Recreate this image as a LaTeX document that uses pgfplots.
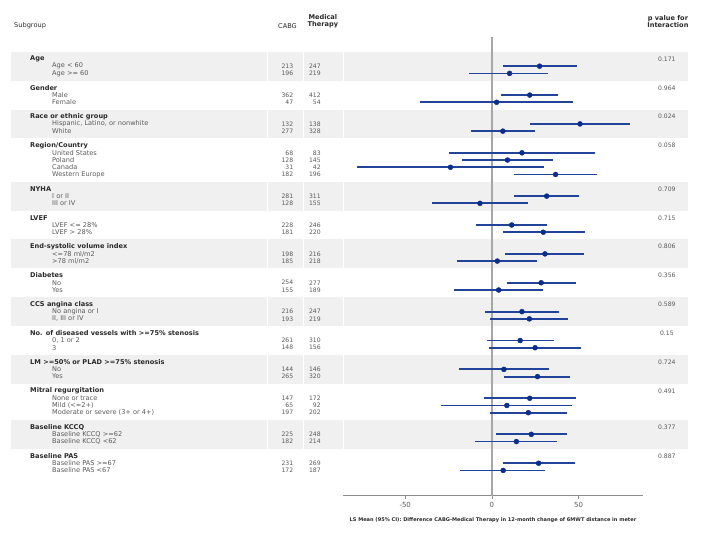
\documentclass[border=0pt]{standalone}
\usepackage{fontspec}
\setmainfont{DejaVu Sans}
\usepackage{pgfplots}
\pgfplotsset{compat=1.18}
\usepackage{pgfplotstable}

\definecolor{band}{HTML}{F0F0F0}
\definecolor{cil}{HTML}{21439A}
\definecolor{dot}{HTML}{0A2D8C}
\definecolor{zero}{HTML}{A6A6A6}
\definecolor{axgray}{HTML}{8C8C8C}
\definecolor{hdrtxt}{HTML}{2A2A2A}
\definecolor{itmtxt}{HTML}{5A5A5A}

% row = line number counted from the Age header (drawn at y = -row)
\pgfplotstableread{
row est   lo    hi
1   27.5  6.3   49.0
2   10.2  -13.1 32.5
5   21.8  5.3   38.2
6   2.7   -41.4 46.9
9   50.8  21.8  79.6
10  6.3   -12.2 25.1
13  17.3  -24.7 59.4
14  9.0   -17.3 35.5
15  -23.9 -77.6 29.8
16  36.7  12.9  60.4
19  31.6  12.5  50.0
20  -6.9  -34.7 21.0
23  11.4  -9.0  32.0
24  29.6  6.3   53.7
27  30.6  7.8   53.1
28  3.1   -20.2 26.1
31  28.4  8.8   48.2
32  3.9   -21.6 29.2
35  17.3  -4.1  38.8
36  21.6  -1.0  43.9
39  16.3  -2.7  35.7
40  24.9  -1.8  51.2
43  6.9   -18.8 32.7
44  26.3  6.9   45.3
47  21.8  -4.7  48.4
48  8.6   -29.2 46.1
49  21.0  -1.0  43.3
52  22.7  2.2   43.3
53  14.1  -10.0 37.8
56  26.9  6.5   47.8
57  6.5   -18.2 30.6
}\ests

\newcommand\fs{\fontsize{6.6}{7.4}\selectfont}
\newcommand\sfs{\fontsize{6.1}{7}\selectfont}
\newcommand\hdr[3]{%
  \node[anchor=west,inner sep=0pt,text=hdrtxt,font=\fs\bfseries] at (axis cs:-266.4,-#1) {#2};
  \node[anchor=center,inner sep=0pt,text=itmtxt,font=\sfs] at (axis cs:100.9,-#1) {#3};}
\newcommand\itm[4]{%
  \node[anchor=west,inner sep=0pt,text=itmtxt,font=\fs] at (axis cs:-253.7,-#1) {#2};
  \node[anchor=east,inner sep=0pt,text=itmtxt,font=\sfs] at (axis cs:-114.5,-#1) {#3};
  \node[anchor=east,inner sep=0pt,text=itmtxt,font=\sfs] at (axis cs:-98.6,-#1) {#4};}
% band between two y values (already negated)
\newcommand\bnd[2]{\fill[band] (axis cs:-277.4,#1) rectangle (axis cs:113,#2);}

\begin{document}
\begin{tikzpicture}
\begin{axis}[scale only axis, width=300pt, height=458.8pt,
    xmin=-86, xmax=87, ymin=-60.5, ymax=3.05,
    axis y line=none, axis x line*=bottom, clip=false,
    xtick={-50,0,50}, ytick=\empty, tick align=outside, major tick length=3pt,
    x axis line style={axgray, line width=0.8pt}, xtick style={axgray, line width=0.8pt},
    xticklabel style={font=\fontsize{7}{8}\selectfont, text=itmtxt},
    /pgf/number format/assume math mode=true]
% page size
\path (axis cs:-283.7,8.17) rectangle (axis cs:122.3,-65.9);
% shaded groups
\bnd{1}{-3} \bnd{-7}{-11} \bnd{-17}{-21} \bnd{-25}{-29} \bnd{-33}{-37} \bnd{-41}{-45} \bnd{-50}{-54}
\draw[white, line width=0.8pt] (axis cs:-129.2,1) -- (axis cs:-129.2,-55);
\draw[white, line width=0.8pt] (axis cs:-109.0,1) -- (axis cs:-109.0,-55);
\draw[white, line width=0.8pt] (axis cs:-85.9,1) -- (axis cs:-85.9,-55);
\addplot[zero, line width=1.2pt, forget plot] coordinates {(0,3.05) (0,-60.5)};
\addplot[only marks, mark=*, mark size=2.5pt, color=dot,
    error bars/.cd, x dir=both, x explicit,
    error mark=none, error bar style={cil, line width=1.8pt}]
  table[x=est, y expr=-\thisrow{row},
        x error plus expr=\thisrow{hi}-\thisrow{est},
        x error minus expr=\thisrow{est}-\thisrow{lo}] {\ests};
% column headers
\node[anchor=west,inner sep=0pt,text=hdrtxt,font=\fs] at (axis cs:-275.6,4.6) {Subgroup};
\node[anchor=east,inner sep=0pt,text=hdrtxt,font=\fs] at (axis cs:-112.4,4.6) {CABG};
\node[align=center,inner sep=0pt,text=hdrtxt,font=\fs\bfseries] at (axis cs:-97.5,5.2) {Medical\\Therapy};
\node[align=center,inner sep=0pt,text=hdrtxt,font=\fs\bfseries] at (axis cs:101.5,5.2) {p value for\\Interaction};
% rows
\hdr{0}{Age}{0.171}
\itm{1}{Age < 60}{213}{247}
\itm{2}{Age >= 60}{196}{219}
\hdr{4}{Gender}{0.964}
\itm{5}{Male}{362}{412}
\itm{6}{Female}{47}{54}
\hdr{8}{Race or ethnic group}{0.024}
\itm{9}{Hispanic, Latino, or nonwhite}{132}{138}
\itm{10}{White}{277}{328}
\hdr{12}{Region/Country}{0.058}
\itm{13}{United States}{68}{83}
\itm{14}{Poland}{128}{145}
\itm{15}{Canada}{31}{42}
\itm{16}{Western Europe}{182}{196}
\hdr{18}{NYHA}{0.709}
\itm{19}{I or II}{281}{311}
\itm{20}{III or IV}{128}{155}
\hdr{22}{LVEF}{0.715}
\itm{23}{LVEF <= 28\%}{228}{246}
\itm{24}{LVEF > 28\%}{181}{220}
\hdr{26}{End-systolic volume index}{0.806}
\itm{27}{<=78 ml/m2}{198}{216}
\itm{28}{>78 ml/m2}{185}{218}
\hdr{30}{Diabetes}{0.356}
\itm{31}{No}{254}{277}
\itm{32}{Yes}{155}{189}
\hdr{34}{CCS angina class}{0.589}
\itm{35}{No angina or I}{216}{247}
\itm{36}{II, III or IV}{193}{219}
\hdr{38}{No. of diseased vessels with >=75\% stenosis}{0.15}
\itm{39}{0, 1 or 2}{261}{310}
\itm{40}{3}{148}{156}
\hdr{42}{LM >=50\% or PLAD >=75\% stenosis}{0.724}
\itm{43}{No}{144}{146}
\itm{44}{Yes}{265}{320}
\hdr{46}{Mitral regurgitation}{0.491}
\itm{47}{None or trace}{147}{172}
\itm{48}{Mild (<=2+)}{65}{92}
\itm{49}{Moderate or severe (3+ or 4+)}{197}{202}
\hdr{51}{Baseline KCCQ}{0.377}
\itm{52}{Baseline KCCQ >=62}{225}{248}
\itm{53}{Baseline KCCQ <62}{182}{214}
\hdr{55}{Baseline PAS}{0.887}
\itm{56}{Baseline PAS >=67}{231}{269}
\itm{57}{Baseline PAS <67}{172}{187}
% x label
\node[inner sep=0pt,text=hdrtxt,font=\fontsize{5.05}{6}\selectfont\bfseries] at (axis cs:0.6,-63.85)
  {LS Mean (95\% CI): Difference CABG-Medical Therapy in 12-month change of 6MWT distance in meter};
\end{axis}
\end{tikzpicture}
\end{document}
